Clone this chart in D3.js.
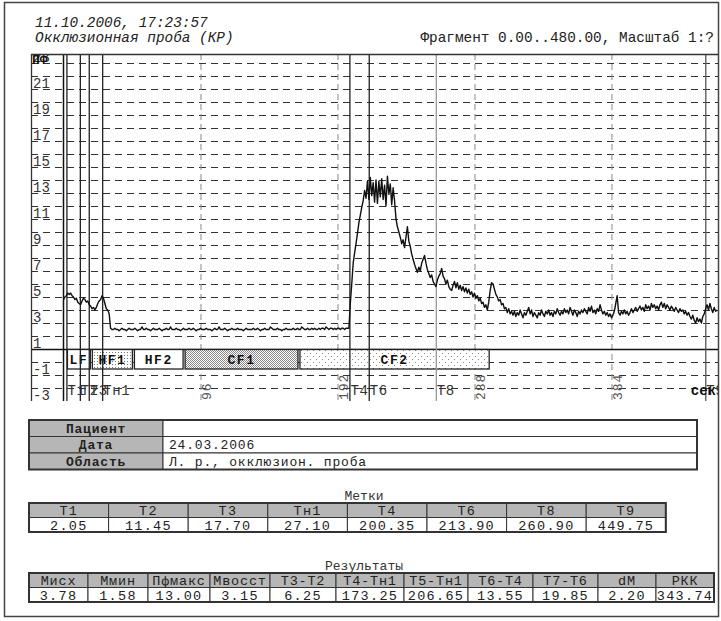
<!DOCTYPE html>
<html>
<head>
<meta charset="utf-8">
<script src="https://cdn.jsdelivr.net/npm/d3@7"></script>
<style>
body { margin: 0; background: #fff; }
svg { display: block; }
text { font-family: "Liberation Mono", "Courier New", monospace; }
</style>
</head>
<body>
<div id="chart-area"></div>
<script>
// flux (perfusion units), one sample per second from 0 s
const dt = 1
const flux = [
	3.8,4.0,4.1,4.3,4.2,4.3,4.1,4.0,3.8,3.9,
	3.6,3.5,3.4,3.7,3.9,3.8,3.6,3.7,3.4,3.3,
	3.1,3.2,3.0,3.2,3.5,3.7,3.8,4.1,3.9,3.5,
	3.1,3.0,2.7,1.6,1.5,1.5,1.6,1.5,1.5,1.4,
	1.5,1.6,1.5,1.5,1.4,1.5,1.6,1.5,1.5,1.5,
	1.6,1.5,1.4,1.5,1.5,1.7,1.5,1.5,1.6,1.5,
	1.5,1.4,1.5,1.6,1.5,1.5,1.5,1.6,1.5,1.4,
	1.5,1.5,1.6,1.5,1.5,1.7,1.5,1.5,1.5,1.6,
	1.5,1.5,1.4,1.5,1.6,1.5,1.5,1.5,1.6,1.5,
	1.5,1.6,1.5,1.4,1.5,1.5,1.6,1.5,1.5,1.5,
	1.6,1.5,1.5,1.5,1.4,1.5,1.6,1.5,1.5,1.7,
	1.5,1.5,1.5,1.6,1.5,1.4,1.5,1.5,1.6,1.5,
	1.5,1.5,1.6,1.5,1.5,1.5,1.4,1.5,1.6,1.5,
	1.5,1.5,1.5,1.6,1.5,1.5,1.6,1.5,1.4,1.5,
	1.5,1.6,1.5,1.5,1.5,1.7,1.6,1.5,1.5,1.5,
	1.6,1.5,1.5,1.4,1.5,1.5,1.6,1.5,1.5,1.5,
	1.5,1.6,1.5,1.5,1.6,1.5,1.5,1.7,1.6,1.5,
	1.5,1.6,1.5,1.5,1.6,1.5,1.6,1.5,1.5,1.6,
	1.5,1.6,1.6,1.5,1.7,1.6,1.5,1.6,1.6,1.5,
	1.6,1.5,1.6,1.6,1.5,1.6,1.6,1.5,1.6,1.6,
	1.6,3.5,5.0,6.6,7.4,8.1,8.9,9.7,10.3,10.9,
	11.4,12.2,11.6,12.9,11.5,13.2,11.8,12.8,11.3,13.0,
	11.2,12.9,11.7,13.1,11.5,12.6,11.0,13.3,11.9,12.7,
	11.1,12.4,11.4,10.0,9.4,9.0,8.6,8.1,8.4,7.8,
	8.6,9.4,8.3,7.9,7.3,6.9,6.5,6.2,5.9,6.3,
	6.0,6.6,6.9,7.2,6.6,6.1,5.8,5.5,5.7,5.2,
	5.0,4.8,5.3,5.6,5.8,6.2,5.6,5.4,5.0,5.3,
	4.8,4.6,4.5,4.9,5.2,4.7,5.1,4.6,4.9,4.5,
	4.8,4.4,4.7,4.3,4.6,4.2,4.4,4.0,4.3,3.9,
	4.1,3.7,3.9,3.5,3.6,3.2,3.4,3.0,3.6,4.5,
	5.1,5.0,4.6,4.2,4.0,3.7,3.8,3.4,3.5,3.1,
	3.2,2.8,3.1,2.7,2.9,2.6,2.9,2.5,2.8,2.6,
	3.0,2.7,2.4,2.8,2.6,2.9,3.2,2.7,3.0,2.5,
	2.8,2.6,2.4,2.8,2.6,3.0,2.7,2.5,2.9,2.7,
	3.0,2.6,2.8,2.5,2.9,2.7,3.1,2.8,2.6,2.9,
	2.7,3.1,2.8,3.0,2.7,3.2,2.9,2.6,3.0,2.8,
	2.5,2.9,2.7,3.0,2.8,3.1,2.9,2.7,3.2,2.9,
	3.3,2.8,3.0,2.7,3.1,2.9,3.4,3.0,2.7,2.9,
	2.6,2.8,2.5,2.7,2.4,2.6,2.9,3.5,4.1,2.8,
	2.6,2.9,2.7,3.0,2.7,2.9,2.6,2.8,3.1,2.8,
	3.0,3.2,2.9,3.1,3.3,3.0,3.2,2.9,3.4,3.1,
	3.3,3.0,3.5,3.2,3.4,3.1,3.3,3.0,3.4,3.6,
	3.2,3.5,3.1,3.4,3.2,3.0,3.3,3.1,2.9,3.2,
	3.0,2.8,3.1,2.9,3.0,2.7,2.9,2.6,2.8,2.5,
	2.3,2.6,2.2,2.0,2.4,2.1,2.3,2.0,2.5,2.7,
	3.1,3.4,3.0,3.5,3.1,2.8,3.2,2.9,3.0
]

// markers (seconds)
const markNames = ['Т1', 'Т2', 'Т3', 'Тн1', 'Т4', 'Т6', 'Т8', 'Т9']
const markTimes = [2.05, 11.45, 17.70, 27.10, 200.35, 213.90, 260.90, 449.75]
const markText = ['2.05', '11.45', '17.70', '27.10', '200.35', '213.90', '260.90', '449.75']

// spectral bands under the zero line
const bandNames = ['LF', 'HF1', 'HF2', 'CF1', 'CF2']
const bandStart = [2.05, 19.5, 49, 84.5, 165]
const bandEnd = [19.5, 49, 84.5, 165, 299]

const xTicks = [96, 192, 288, 384]
const yLabels = [23, 21, 19, 17, 15, 13, 11, 9, 7, 5, 3, 1, -1, -3]

const patientLabels = ['Пациент', 'Дата', 'Область']
const patientValues = ['', '24.03.2006', 'Л. р., окклюзион. проба']

const resultNames = ['Мисх', 'Ммин', 'Пфмакс', 'Мвосст', 'Т3-Т2', 'Т4-Тн1', 'Т5-Тн1', 'Т6-Т4', 'Т7-Т6', 'dM', 'РКК']
const resultValues = ['3.78', '1.58', '13.00', '3.15', '6.25', '173.25', '206.65', '13.55', '19.85', '2.20', '343.74']

// layout
const plot = { left: 31, top: 54, right: 718, bottom: 401 }
const headGray = '#b6b6b6'

const svg = d3.select('#chart-area')
	.append('svg')
	.attr('width', 721)
	.attr('height', 621)

const defs = svg.append('defs')
defs.append('clipPath').attr('id', 'plot-clip')
	.append('rect')
	.attr('x', plot.left).attr('y', plot.top)
	.attr('width', plot.right - plot.left).attr('height', plot.bottom - plot.top)

// dotted fills for the band boxes
function dots(id, size, color, pts) {
	let p = defs.append('pattern')
		.attr('id', id)
		.attr('patternUnits', 'userSpaceOnUse')
		.attr('width', size).attr('height', size)
	p.append('rect').attr('width', size).attr('height', size).attr('fill', '#fff')
	pts.forEach(d => {
		p.append('rect').attr('x', d[0]).attr('y', d[1]).attr('width', 1).attr('height', 1).attr('fill', color)
	})
}
dots('dot-hf', 3, '#777', [[1, 1]])
dots('dot-cf1', 2, '#8a8a8a', [[0, 0], [1, 1]])
dots('dot-cf2', 6, '#888', [[1, 2], [4, 5]])
const bandFill = { LF: '#fff', HF1: 'url(#dot-hf)', HF2: '#fff', CF1: 'url(#dot-cf1)', CF2: 'url(#dot-cf2)' }

// scales
const xScale = d3.scaleLinear()
	.domain([0, 480])
	.range([63.5, 63.5 + 480 * 1.427])

const yScale = d3.scaleLinear()
	.domain([-4, 23])
	.range([401, 50])

// outer frame
svg.append('rect')
	.attr('x', 4.5).attr('y', 2.5)
	.attr('width', 714).attr('height', 614)
	.attr('fill', 'none').attr('stroke', '#444').attr('stroke-width', 1.5)

// header
svg.append('text').attr('x', 35).attr('y', 27)
	.attr('font-size', 14.4).attr('font-style', 'italic').attr('fill', '#222')
	.text('11.10.2006, 17:23:57')
svg.append('text').attr('x', 35).attr('y', 42)
	.attr('font-size', 14.4).attr('font-style', 'italic').attr('fill', '#222')
	.text('Окклюзионная проба (КР)')
svg.append('text').attr('x', 714).attr('y', 42)
	.attr('font-size', 14.4).attr('text-anchor', 'end').attr('fill', '#222')
	.text('Фрагмент 0.00..480.00, Масштаб 1:?')

let g = svg.append('g').attr('clip-path', 'url(#plot-clip)')

// horizontal dashed grid every unit
g.append('g')
	.selectAll('line')
	.data(d3.range(-3, 23).filter(v => v !== 0))
	.join('line')
	.attr('x1', plot.left).attr('x2', plot.right)
	.attr('y1', d => yScale(d) + 0.5).attr('y2', d => yScale(d) + 0.5)
	.attr('stroke', '#333').attr('stroke-dasharray', '7,5')

// vertical dashed grid
g.append('g')
	.selectAll('line')
	.data(xTicks)
	.join('line')
	.attr('x1', d => xScale(d) + 0.5).attr('x2', d => xScale(d) + 0.5)
	.attr('y1', plot.top).attr('y2', plot.bottom)
	.attr('stroke', '#888').attr('stroke-dasharray', '6,4')

// y labels, hanging below their lines
g.append('g')
	.selectAll('text')
	.data(yLabels)
	.join('text')
	.attr('x', 33)
	.attr('y', d => yScale(d) + 1)
	.attr('dy', '0.78em')
	.attr('font-size', 14)
	.attr('fill', '#333')
	.text(d => d)

// x tick labels, rotated
g.append('g')
	.selectAll('text')
	.data(xTicks)
	.join('text')
	.attr('transform', d => 'translate(' + (xScale(d) + 11) + ',400) rotate(-90)')
	.attr('font-size', 13)
	.attr('letter-spacing', 1)
	.attr('fill', '#555')
	.text(d => d)

// zero line and y axis
g.append('line')
	.attr('x1', plot.left).attr('x2', plot.right)
	.attr('y1', yScale(0) + 0.5).attr('y2', yScale(0) + 0.5)
	.attr('stroke', '#111').attr('stroke-width', 1.5)
g.append('line')
	.attr('x1', xScale(0)).attr('x2', xScale(0))
	.attr('y1', plot.top).attr('y2', plot.bottom)
	.attr('stroke', '#111').attr('stroke-width', 1.5)

// bands
let bands = g.append('g')
	.selectAll('g')
	.data(bandNames)
	.join('g')
bands.append('rect')
	.attr('x', (d, i) => xScale(bandStart[i]) + 1)
	.attr('y', yScale(0) + 0.5)
	.attr('width', (d, i) => xScale(bandEnd[i]) - xScale(bandStart[i]) - 2)
	.attr('height', yScale(-1.5) - yScale(0))
	.attr('fill', d => bandFill[d])
	.attr('stroke', '#222').attr('stroke-width', 1.3)
bands.append('text')
	.attr('x', (d, i) => (xScale(bandStart[i]) + xScale(bandEnd[i])) / 2)
	.attr('y', yScale(-1.15))
	.attr('text-anchor', 'middle')
	.attr('font-size', 13).attr('font-weight', 'bold')
	.attr('letter-spacing', 1.5)
	.attr('fill', '#111')
	.text(d => d)

// marker lines
g.append('g')
	.selectAll('line')
	.data(markTimes)
	.join('line')
	.attr('x1', d => xScale(d) + 0.5).attr('x2', d => xScale(d) + 0.5)
	.attr('y1', plot.top).attr('y2', plot.bottom)
	.attr('stroke', (d, i) => markNames[i] === 'Т8' ? '#999' : (markNames[i] === 'Т9' ? '#555' : '#222'))
	.attr('stroke-width', 1.3)

g.append('g')
	.selectAll('text')
	.data(markTimes)
	.join('text')
	.attr('x', d => xScale(d) + 1)
	.attr('y', 395)
	.attr('font-size', 14)
	.attr('letter-spacing', 0.6)
	.attr('fill', '#333')
	.text((d, i) => markNames[i])

// flux trace
let line = d3.line()
	.x((d, i) => xScale(i * dt))
	.y(d => yScale(d))
g.append('path')
	.datum(flux)
	.attr('d', line)
	.attr('fill', 'none')
	.attr('stroke', '#111')
	.attr('stroke-width', 1.4)
	.attr('stroke-linejoin', 'round')

// units
svg.append('text').attr('x', 32).attr('y', 64)
	.attr('font-size', 13).attr('font-weight', 'bold').attr('fill', '#111')
	.text('ПФ')
svg.append('text').attr('x', 716).attr('y', 395)
	.attr('font-size', 14).attr('font-weight', 'bold').attr('text-anchor', 'end').attr('fill', '#111')
	.text('сек')

// plot frame
svg.append('path')
	.attr('d', 'M' + (plot.left + 0.5) + ',' + plot.bottom + 'V' + (plot.top + 0.5) + 'H' + plot.right)
	.attr('fill', 'none').attr('stroke', '#333').attr('stroke-width', 1.3)

// tables
function table(x0, edges, top, rowH, rows) {
	let t = svg.append('g')
	rows.forEach((r, ri) => {
		let y = top + ri * rowH
		r.cells.forEach((c, ci) => {
			let x = edges[ci], w = edges[ci + 1] - edges[ci]
			t.append('rect')
				.attr('x', x).attr('y', y).attr('width', w).attr('height', rowH)
				.attr('fill', r.fill[ci]).attr('stroke', '#333').attr('stroke-width', 1)
			t.append('text')
				.attr('x', r.align[ci] === 'start' ? x + 6 : x + w / 2)
				.attr('y', y + rowH / 2)
				.attr('dy', '0.36em')
				.attr('text-anchor', r.align[ci])
				.attr('font-size', r.size)
				.attr('font-weight', r.weight[ci])
				.attr('letter-spacing', r.spacing)
				.attr('fill', '#222')
				.text(c)
		})
	})
	t.append('rect')
		.attr('x', edges[0]).attr('y', top)
		.attr('width', edges[edges.length - 1] - edges[0]).attr('height', rowH * rows.length)
		.attr('fill', 'none').attr('stroke', '#333').attr('stroke-width', 2)
}

// patient
table(29, [29, 163, 697], 420, 16.5, patientLabels.map((d, i) => ({
	cells: [d, patientValues[i]],
	fill: [headGray, '#fff'],
	align: ['middle', 'start'],
	weight: ['bold', 'normal'],
	size: 13,
	spacing: 0.8
})))

// marks
svg.append('text').attr('x', 364).attr('y', 500)
	.attr('text-anchor', 'middle').attr('font-size', 13).attr('fill', '#333')
	.text('Метки')
const markEdges = d3.range(9).map(i => 29 + i * 79.6)
table(29, markEdges, 503, 14.5, [
	{ cells: markNames, fill: markNames.map(() => headGray), align: markNames.map(() => 'middle'), weight: markNames.map(() => 'normal'), size: 13.5, spacing: 1.3 },
	{ cells: markText, fill: markNames.map(() => '#fff'), align: markNames.map(() => 'middle'), weight: markNames.map(() => 'normal'), size: 13.5, spacing: 1.3 }
])

// results
svg.append('text').attr('x', 364).attr('y', 570)
	.attr('text-anchor', 'middle').attr('font-size', 13).attr('fill', '#333')
	.text('Результаты')
const resultEdges = [29, 88, 148, 210, 270, 336, 404, 468, 533, 598, 656, 714]
table(29, resultEdges, 573, 14.5, [
	{ cells: resultNames, fill: resultNames.map(() => headGray), align: resultNames.map(() => 'middle'), weight: resultNames.map(() => 'normal'), size: 13.5, spacing: 0.8 },
	{ cells: resultValues, fill: resultNames.map(() => '#fff'), align: resultNames.map(() => 'middle'), weight: resultNames.map(() => 'normal'), size: 13.5, spacing: 1.3 }
])
</script>
</body>
</html>
